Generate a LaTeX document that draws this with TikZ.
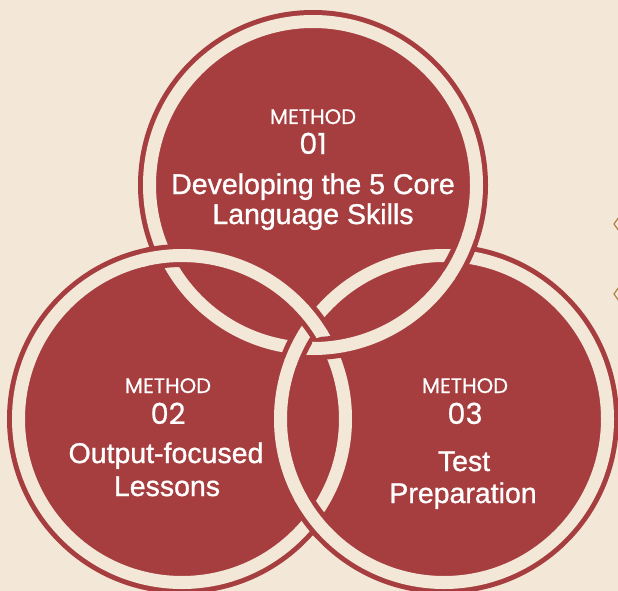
\documentclass[tikz,border=0pt]{standalone}
\usepackage{fontspec}
\setmainfont{Liberation Sans}
\newfontfamily\poppfont[FakeBold=0.6]{Poppins}
\newfontfamily\titlefont[FakeBold=1]{Liberation Sans}
\definecolor{bgc}{RGB}{243,231,215}
\definecolor{redc}{RGB}{166,62,64}
\definecolor{markc}{RGB}{176,128,72}
\tikzset{
  diskfill/.style={fill=redc},
  bandline/.style={draw=bgc,line width=13pt},
  bandborder/.style={draw=redc,line width=23pt},
  methodlbl/.style={text=white,font=\poppfont\fontsize{21}{21}\selectfont,anchor=base,inner sep=0pt},
  numlbl/.style={text=white,font=\poppfont\fontsize{29}{29}\selectfont,anchor=base,inner sep=0pt},
  titlelbl/.style={text=white,font=\titlefont\fontsize{28.5}{30}\selectfont,anchor=base,inner sep=0pt},
  markline/.style={draw=markc,line width=1.2pt},
}
% #1 over band centre, #2 crossing, #3 clip radius of border, #4 clip radius of band
\newcommand{\weaveover}[4]{%
  \begin{scope}
    \clip (#2) circle[radius=#3];
    \draw[bandborder] (#1) circle[radius=163.5pt];
  \end{scope}
  \begin{scope}
    \clip (#2) circle[radius=#4];
    \draw[bandline] (#1) circle[radius=163.5pt];
  \end{scope}}
\begin{document}
\begin{tikzpicture}[x=1pt,y=-1pt]
\fill[bgc] (0,0) rectangle (618,591);
\useasboundingbox (0,0) rectangle (618,591);
% circle centres
\coordinate (A) at (313,185);
\coordinate (B) at (182,419);
\coordinate (C) at (444,419);
% crossings of band centre lines
\coordinate (ABo) at (165.9,256.3);
\coordinate (ABi) at (329.1,347.7);
\coordinate (ACo) at (460.1,256.3);
\coordinate (ACi) at (296.9,347.7);
\coordinate (BCt) at (313,321.2);
\coordinate (BCb) at (313,516.8);
% disks
\foreach \c in {A,B,C} \fill[diskfill] (\c) circle[radius=175pt];
% bands
\foreach \c in {A,B,C} \draw[bandline] (\c) circle[radius=163.5pt];
% over/under
\weaveover{B}{ABo}{22pt}{25pt}
\weaveover{A}{ACo}{22pt}{25pt}
\weaveover{C}{BCb}{22pt}{25pt}
\weaveover{A}{ABi}{16pt}{17.3pt}
\weaveover{C}{ACi}{16pt}{17.3pt}
\weaveover{B}{BCt}{16pt}{17.3pt}
% small marks at right edge
\coordinate (mk1a) at (619,217);
\coordinate (mk1b) at (614,224);
\coordinate (mk1c) at (619,231);
\coordinate (mk2a) at (619,287);
\coordinate (mk2b) at (614,294);
\coordinate (mk2c) at (619,301);
\draw[markline] (mk1a) -- (mk1b) -- (mk1c);
\draw[markline] (mk2a) -- (mk2b) -- (mk2c);
% texts
\node[methodlbl] (m1) at (313,124) {METHOD};
\node[numlbl] (n1) at (313,154) {01};
\node[titlelbl] (t1a) at (313,194) {Developing the 5 Core};
\node[titlelbl] (t1b) at (313,224) {Language Skills};
\node[methodlbl] (m2) at (168,393) {METHOD};
\node[numlbl] (n2) at (168,424) {02};
\node[titlelbl] (t2a) at (166,463) {Output-focused};
\node[titlelbl] (t2b) at (167,496) {Lessons};
\node[methodlbl] (m3) at (465,393) {METHOD};
\node[numlbl] (n3) at (465,424) {03};
\node[titlelbl] (t3a) at (464,471) {Test};
\node[titlelbl] (t3b) at (463,503) {Preparation};
\end{tikzpicture}
\end{document}
